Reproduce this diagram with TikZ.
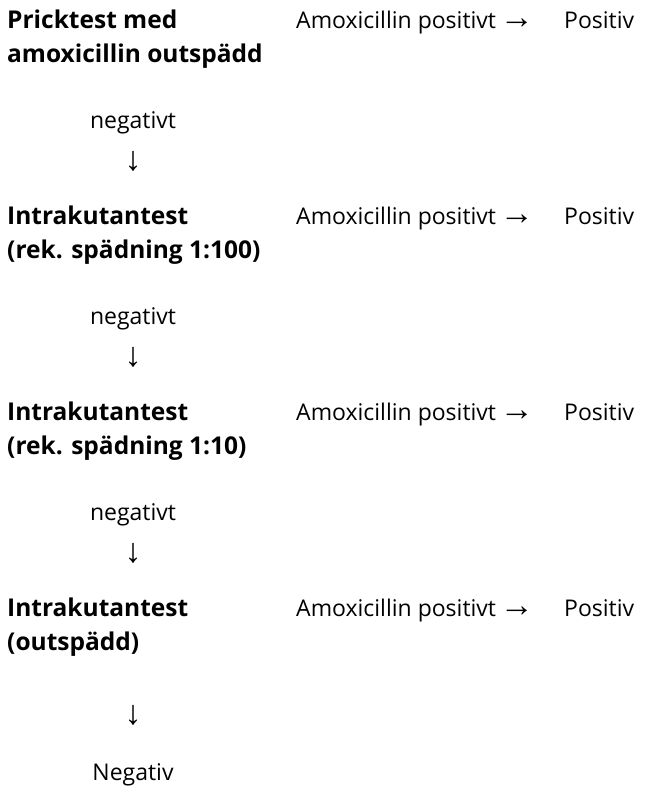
\documentclass[tikz,border=0pt]{standalone}
\usepackage{fontspec}
\setmainfont{Open Sans}
\newfontfamily\arrowfont{Liberation Sans}
\begin{document}
\begin{tikzpicture}[x=1pt,y=-1pt,
    testbox/.style={anchor=base west,inner sep=0pt,font=\fontsize{24.5}{34}\selectfont\bfseries,align=left},
    restext/.style={anchor=base west,inner sep=0pt,font=\fontsize{23}{30}\selectfont},
    midtext/.style={anchor=base,inner sep=0pt,font=\fontsize{23}{30}\selectfont},
    downarrow/.style={anchor=base,inner sep=0pt,font=\fontsize{34}{36}\arrowfont}]
    \useasboundingbox (0,0) rectangle (646,790);
    \node[testbox] (T1) at (7,62) {Pricktest med\\amoxicillin outspädd};
    \node[restext] (A1) at (296,28) {Amoxicillin positivt\,{\fontsize{34}{36}\arrowfont →}};
    \node[restext] (P1) at (564,28) {Positiv};
    \node[midtext] (N1) at (133,128) {negativt};
    \node[downarrow] (D1) at (133,170) {↓};
    \node[testbox] (T2) at (7,258) {Intrakutantest\\(rek. spädning 1:100)};
    \node[restext] (A2) at (296,224) {Amoxicillin positivt\,{\fontsize{34}{36}\arrowfont →}};
    \node[restext] (P2) at (564,224) {Positiv};
    \node[midtext] (N2) at (133,324) {negativt};
    \node[downarrow] (D2) at (133,366) {↓};
    \node[testbox] (T3) at (7,454) {Intrakutantest\\(rek. spädning 1:10)};
    \node[restext] (A3) at (296,420) {Amoxicillin positivt\,{\fontsize{34}{36}\arrowfont →}};
    \node[restext] (P3) at (564,420) {Positiv};
    \node[midtext] (N3) at (133,520) {negativt};
    \node[downarrow] (D3) at (133,562) {↓};
    \node[testbox] (T4) at (7,650) {Intrakutantest\\(outspädd)};
    \node[restext] (A4) at (296,616) {Amoxicillin positivt\,{\fontsize{34}{36}\arrowfont →}};
    \node[restext] (P4) at (564,616) {Positiv};
    \node[downarrow] (D4) at (133,724) {↓};
    \node[midtext] (N4) at (133,780) {Negativ};
\end{tikzpicture}
\end{document}
